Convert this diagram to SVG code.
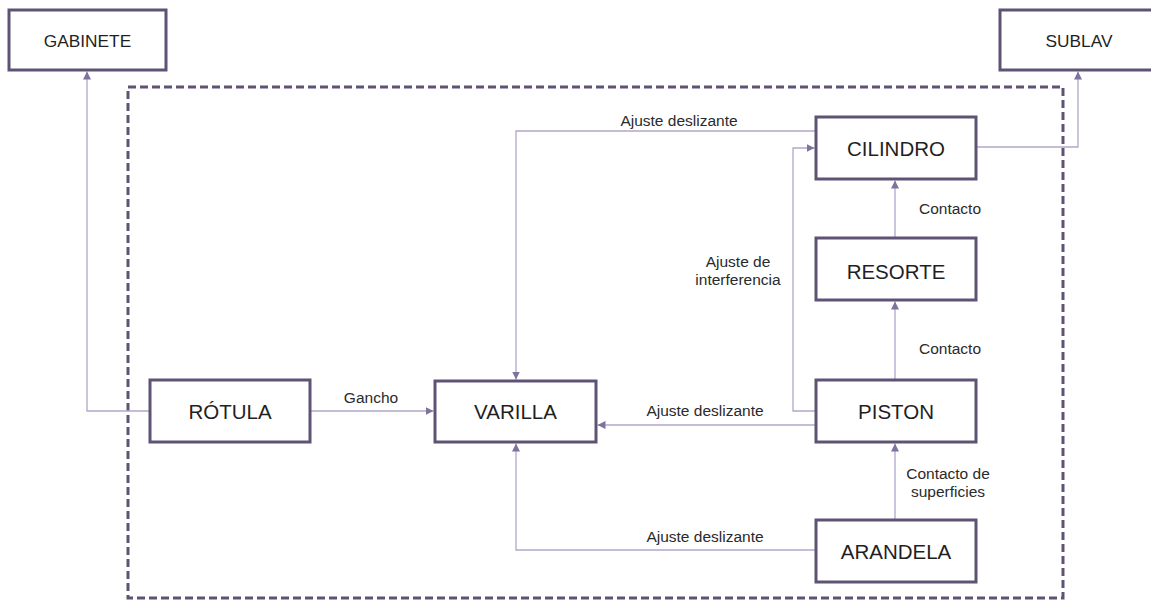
<svg xmlns="http://www.w3.org/2000/svg" width="1151" height="603" viewBox="0 0 1151 603">
  <style>
    .box { fill: #ffffff; stroke: #5e5275; stroke-width: 3; }
    .name { font-family: "Liberation Sans", Arial, sans-serif; font-size: 20.5px; fill: #1f1f1f; text-anchor: middle; }
    .ext { font-size: 17.3px; }
    .conn { fill: none; stroke: #b1a7cb; stroke-width: 1.3; marker-end: url(#arrow); }
    .lbl { font-family: "Liberation Sans", Arial, sans-serif; font-size: 15.5px; fill: #2a2a2a; text-anchor: middle; }
    .frame { fill: none; stroke: #5e5275; stroke-width: 3; stroke-dasharray: 8 4; }
  </style>
  <defs>
    <marker id="arrow" viewBox="0 0 10 10" refX="10" refY="5" markerWidth="8" markerHeight="8" markerUnits="userSpaceOnUse" orient="auto">
      <path d="M0,0 L10,5 L0,10 z" fill="#7f729e"/>
    </marker>
  </defs>

  <rect width="1151" height="603" fill="#ffffff"/>

  <!-- system boundary -->
  <rect class="frame" x="128" y="87" width="935" height="511"/>

  <!-- connectors -->
  <g id="connectors">
    <path class="conn" d="M150 411 H87 V71.5"/>
    <path class="conn" d="M310 411 H433.5"/>
    <path class="conn" d="M815 131 H516 V379.5"/>
    <path class="conn" d="M815 411 H793 V148 H814.5"/>
    <path class="conn" d="M895 237 V180.5"/>
    <path class="conn" d="M895 379 V301.5"/>
    <path class="conn" d="M815 425 H597.5"/>
    <path class="conn" d="M895 519 V443.5"/>
    <path class="conn" d="M815 550 H516 V443.5"/>
    <path class="conn" d="M977 147 H1078 V71.5"/>
  </g>

  <!-- connector labels -->
  <g id="labels">
    <text class="lbl" x="371" y="403">Gancho</text>
    <text class="lbl" x="679" y="126">Ajuste deslizante</text>
    <text class="lbl" x="950" y="214">Contacto</text>
    <text class="lbl" x="738" y="267">Ajuste de</text>
    <text class="lbl" x="738" y="285">interferencia</text>
    <text class="lbl" x="950" y="354">Contacto</text>
    <text class="lbl" x="705" y="416">Ajuste deslizante</text>
    <text class="lbl" x="948" y="479">Contacto de</text>
    <text class="lbl" x="948" y="497">superficies</text>
    <text class="lbl" x="705" y="542">Ajuste deslizante</text>
  </g>

  <!-- nodes -->
  <g id="gabinete">
    <rect class="box" x="9" y="10" width="157" height="60"/>
    <text class="name ext" x="87.5" y="46.5">GABINETE</text>
  </g>
  <g id="sublav">
    <rect class="box" x="1000" y="10" width="158" height="60"/>
    <text class="name ext" x="1079" y="47">SUBLAV</text>
  </g>
  <g id="rotula">
    <rect class="box" x="150" y="380" width="160" height="62"/>
    <text class="name" x="230" y="418.5">RÓTULA</text>
  </g>
  <g id="varilla">
    <rect class="box" x="435" y="381" width="161" height="61"/>
    <text class="name" x="515.5" y="419">VARILLA</text>
  </g>
  <g id="cilindro">
    <rect class="box" x="816" y="117" width="160" height="62"/>
    <text class="name" x="896" y="155.5">CILINDRO</text>
  </g>
  <g id="resorte">
    <rect class="box" x="816" y="238" width="160" height="62"/>
    <text class="name" x="896" y="278.5">RESORTE</text>
  </g>
  <g id="piston">
    <rect class="box" x="816" y="380" width="160" height="62"/>
    <text class="name" x="896" y="418.5">PISTON</text>
  </g>
  <g id="arandela">
    <rect class="box" x="816" y="520" width="160" height="62"/>
    <text class="name" x="896" y="558.5">ARANDELA</text>
  </g>
</svg>
